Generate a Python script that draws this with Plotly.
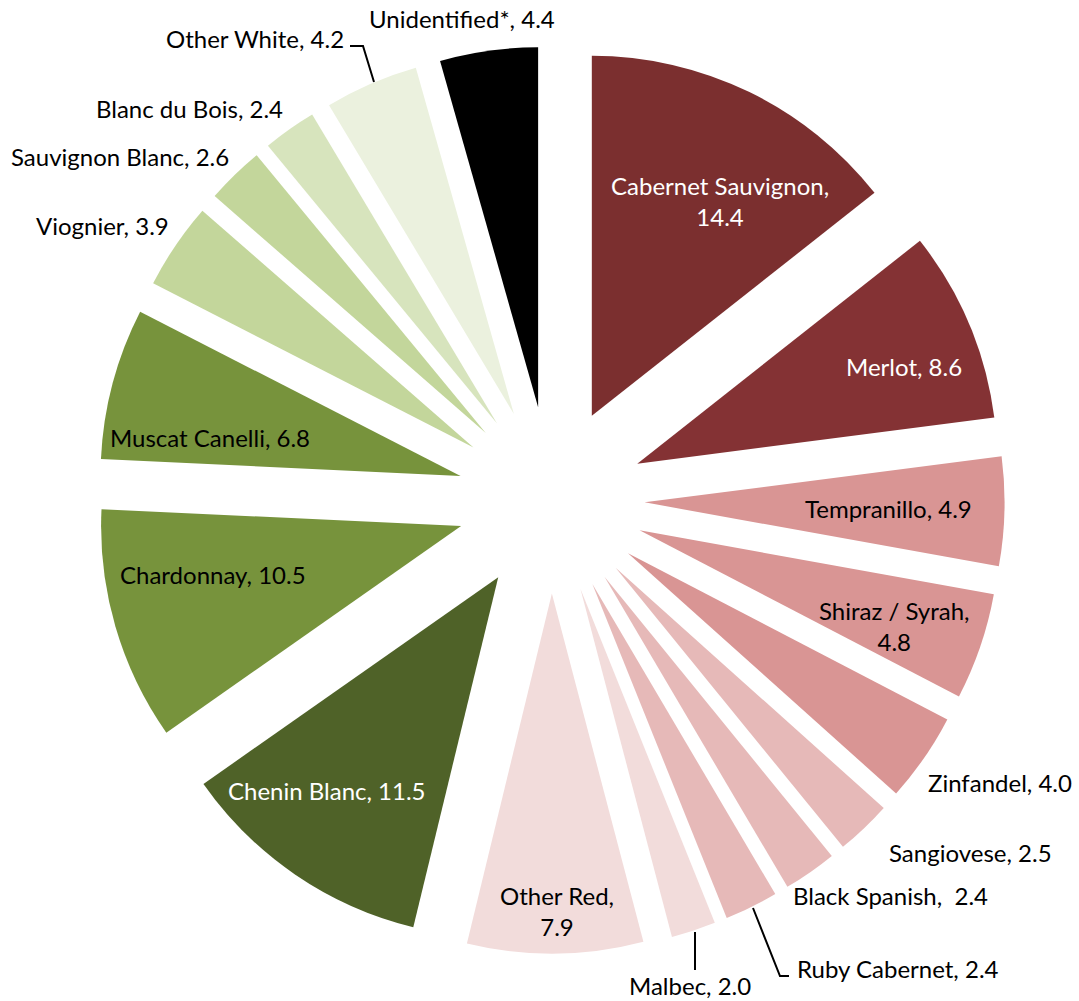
import plotly.graph_objects as go

W, H = 1079, 1001

varieties = ["Cabernet Sauvignon", "Merlot", "Tempranillo", "Shiraz / Syrah", "Zinfandel",
             "Sangiovese", "Black Spanish", "Ruby Cabernet", "Malbec", "Other Red",
             "Chenin Blanc", "Chardonnay", "Muscat Canelli", "Viognier", "Sauvignon Blanc",
             "Blanc du Bois", "Other White", "Unidentified*"]
shares = [14.4, 8.6, 4.9, 4.8, 4.0, 2.5, 2.4, 2.4, 2.0, 7.9,
          11.5, 10.5, 6.8, 3.9, 2.6, 2.4, 4.2, 4.4]
label_texts = ["Cabernet Sauvignon,<br>14.4", "Merlot, 8.6", "Tempranillo, 4.9",
               "Shiraz / Syrah,<br>4.8", "Zinfandel, 4.0", "Sangiovese, 2.5",
               "Black Spanish,  2.4", "Ruby Cabernet, 2.4", "Malbec, 2.0",
               "Other Red,<br>7.9", "Chenin Blanc, 11.5", "Chardonnay, 10.5",
               "Muscat Canelli, 6.8", "Viognier, 3.9", "Sauvignon Blanc, 2.6",
               "Blanc du Bois, 2.4", "Other White, 4.2", "Unidentified*, 4.4"]

colors = ["#7B2F2F", "#843234", "#D99594", "#D99594", "#D99594",
          "#E6B9B8", "#E6B9B8", "#E6B9B8", "#F2DCDB", "#F2DCDB",
          "#4F6228", "#77933C", "#77933C", "#C3D69B", "#C3D69B",
          "#D7E4BD", "#EBF1DE", "#000000"]
text_colors = ["white", "white", "black", "black", "black", "black", "black", "black",
               "black", "black", "white", "black", "black", "black", "black", "black",
               "black", "black"]
# label centres in pixels (layout)
label_px = [(720, 201), (904, 366), (888, 508), (894, 626), (1000, 782),
            (970, 852), (890, 895), (898, 968), (690, 985), (557, 911),
            (327, 790), (213, 574), (210, 437), (102, 225), (120, 156),
            (189, 108), (255, 38), (462, 18)]
leader_px = [[(350, 46), (363, 46), (374, 82)],
             [(753, 908), (780, 976), (789, 976)],
             [(695, 932), (695, 970)]]

def px(x, y):
    return x / W, 1 - y / H

FONT = "Lato"
FS = 24
CX, CY, R, PULL = 551, 500, 360, 0.26
HALF = R * (1 + PULL)

fig = go.Figure(go.Pie(
    labels=varieties, values=shares, sort=False, direction="clockwise", rotation=0,
    pull=[PULL] * len(shares), textinfo="none", hoverinfo="label+value",
    marker=dict(colors=colors, line=dict(width=0)),
    domain=dict(x=[(CX - HALF) / W, (CX + HALF) / W],
                y=[(H - CY - HALF) / H, (H - CY + HALF) / H]),
    showlegend=False,
))

annotations = []
for t, (x, y), c in zip(label_texts, label_px, text_colors):
    xp, yp = px(x, y)
    annotations.append(dict(x=xp, y=yp, xref="paper", yref="paper", text=t, showarrow=False,
                            xanchor="center", yanchor="middle",
                            font=dict(family=FONT, size=FS, color=c)))
shapes = []
for pts in leader_px:
    path = "M " + " L ".join(f"{px(x, y)[0]},{px(x, y)[1]}" for x, y in pts)
    shapes.append(dict(type="path", xref="paper", yref="paper", path=path,
                       line=dict(color="black", width=2)))

fig.update_layout(width=W, height=H, margin=dict(l=0, r=0, t=0, b=0),
                  paper_bgcolor="white", plot_bgcolor="white",
                  annotations=annotations, shapes=shapes,
                  font=dict(family=FONT, size=FS))
fig.write_html("out.html", config={"displayModeBar": False},
               post_script="document.body.style.margin='0';document.body.style.overflow='hidden';")
